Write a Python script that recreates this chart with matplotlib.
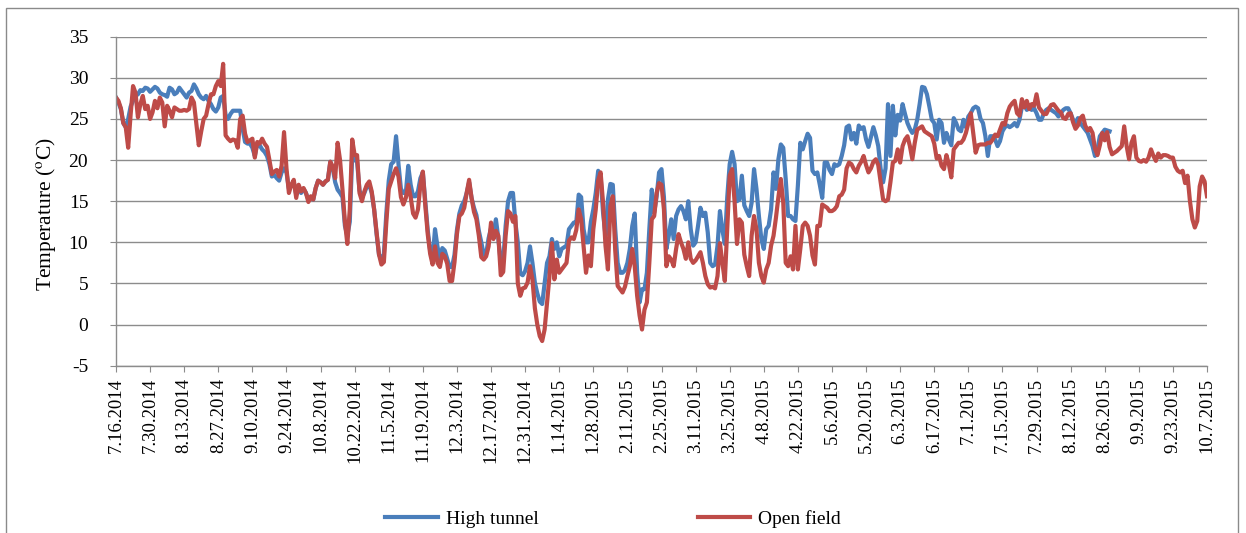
import numpy as np
import pandas as pd
import matplotlib
matplotlib.use("Agg")
import matplotlib.pyplot as plt
from matplotlib.patches import Rectangle

plt.rcParams['font.family'] = ['Liberation Serif', 'DejaVu Serif']
plt.rcParams['mathtext.fontset'] = 'stix'
plt.rcParams['axes.unicode_minus'] = False

# daily mean air temperature (deg C), first day 7/16/2014
start_date = '2014-07-16'

# high tunnel logger stops at the end of August 2015
high_tunnel = (
    [27.6, 27.0, 26.2, 24.5, 24.0, 25.0, 26.5, 27.2, 27.8, 28.0, 28.5, 28.4, 28.8, 28.7,
     28.3, 28.6, 28.9, 28.7, 28.2, 28.0, 27.9, 27.7, 28.8, 28.6, 28.0, 28.2, 28.8, 28.4,
     28.0, 27.6, 28.2, 28.4, 29.2, 28.7, 28.0, 27.6, 27.4, 27.8, 27.2, 26.8, 26.2]
    + [25.9, 26.4, 27.6, 27.8, 25.5, 25.0, 25.6, 26.0, 26.0, 26.0, 26.0, 23.8, 22.2, 22.0,
       22.0, 21.5, 20.5, 22.0, 21.8, 21.3, 21.0, 20.5, 19.5, 18.0, 18.2, 17.8, 17.5, 18.5,
       19.0, 18.5, 16.5, 17.0, 17.3, 15.8, 16.5, 16.0, 16.5, 16.0, 15.2, 15.5]
    + [15.2, 16.6, 17.5, 17.3, 17.0, 17.4, 17.6, 19.8, 19.0, 17.3, 16.4, 16.0, 15.5, 12.0,
       10.8, 12.5, 20.6, 20.0, 19.8, 16.3, 15.5, 16.0, 16.8, 17.0, 16.0, 14.0, 11.0, 8.5,
       8.0, 8.6, 13.5, 17.5, 19.5, 19.8, 22.9, 19.5, 16.5, 16.0, 16.0, 19.3, 17.0, 15.6]
    + [15.6, 16.2, 17.8, 18.5, 15.0, 11.5, 9.0, 8.0, 11.6, 9.5, 8.0, 9.3, 9.0, 8.0,
       7.0, 7.0, 8.5, 11.5, 13.5, 14.5, 15.0, 16.0, 17.3, 15.4, 14.2, 13.3, 11.4, 10.0,
       8.5, 8.6, 10.5, 11.7, 11.0, 12.8, 10.5, 7.5, 7.8, 12.0, 15.0]
    + [16.0, 16.0, 12.4, 10.0, 6.2, 6.0, 6.5, 7.5, 9.5, 7.5, 5.1, 3.8, 2.8, 2.5,
       5.0, 7.5, 8.3, 10.4, 9.2, 10.0, 8.3, 9.2, 9.4, 9.6, 11.6, 12.0, 12.4, 12.4,
       15.8, 15.5, 11.6, 10.0, 10.0, 12.5, 14.0, 16.0, 18.7, 18.0, 13.6, 10.8, 15.2, 17.1, 17.0]
    + [11.6, 7.5, 6.3, 6.3, 6.6, 7.5, 9.2, 12.0, 13.5, 6.3, 2.7, 4.3, 4.3, 6.3,
       11.6, 16.4, 13.6, 15.6, 18.5, 18.9, 15.5, 9.2, 10.8, 12.8, 10.4, 13.2, 14.0, 14.4,
       13.8, 12.8, 15.0, 11.6, 9.6, 10.0, 12.0, 14.2, 13.2, 13.6, 11.2, 7.5, 7.1]
    + [7.3, 9.6, 13.8, 11.5, 9.8, 15.5, 19.5, 21.0, 19.5, 15.0, 15.2, 18.1, 14.5, 13.8,
       13.2, 14.8, 18.9, 16.5, 13.2, 10.4, 9.2, 11.6, 12.0, 14.0, 18.5, 16.5, 20.1, 21.9,
       21.5, 17.7, 13.2, 13.2, 12.8, 12.6, 16.9, 22.1, 21.3, 22.3, 23.2, 22.7, 18.7]
    + [18.3, 18.5, 17.0, 15.4, 19.7, 19.7, 18.8, 18.3, 19.5, 19.3, 19.5, 20.5, 21.8, 24.0,
       24.2, 22.5, 23.3, 22.0, 24.2, 23.8, 24.0, 22.5, 21.6, 22.8, 24.0, 23.0, 21.7, 18.9,
       17.3, 19.0, 26.8, 20.5, 26.6, 23.0, 25.5, 24.8, 26.8, 25.6, 24.5, 23.8, 23.3]
    + [23.7, 24.9, 26.8, 28.9, 28.8, 28.0, 26.5, 24.9, 24.5, 22.5, 24.9, 24.5, 22.1, 23.3,
       22.5, 21.8, 25.1, 24.5, 23.7, 23.5, 24.9, 24.0, 25.3, 25.7, 26.3, 26.5, 26.3, 25.0,
       24.5, 22.9, 20.5, 22.9, 22.9, 22.5, 21.7, 22.3, 23.5, 24.0, 24.2, 24.0, 24.2]
    + [24.5, 24.1, 24.9, 26.5, 26.9, 26.1, 26.3, 26.1, 26.3, 25.7, 24.9, 24.9, 25.7, 26.1,
       26.3, 26.1, 25.9, 25.7, 25.3, 25.7, 26.1, 26.3, 26.3, 25.7, 24.9, 24.5, 25.1, 24.5,
       24.1, 23.7, 23.3, 22.5, 21.7, 20.5, 21.3, 22.9, 23.3, 23.7, 23.6, 23.5]
)

open_field = (
    [27.6, 27.2, 26.3, 24.5, 24.0, 21.5, 25.5, 29.0, 28.2, 25.2, 26.8, 27.8, 26.2, 26.6,
     25.0, 25.8, 27.2, 26.3, 27.6, 27.0, 24.1, 26.6, 26.0, 25.2, 26.4, 26.2, 26.0, 26.0,
     26.1, 26.0, 26.2, 27.6, 27.0, 24.4, 21.8, 23.5, 25.0, 25.4, 26.8, 28.0, 28.0]
    + [29.0, 29.6, 29.0, 31.7, 23.0, 22.6, 22.3, 22.5, 22.4, 21.5, 25.0, 25.4, 23.2, 22.2,
       22.4, 22.6, 20.3, 22.2, 22.0, 22.6, 22.0, 21.6, 20.0, 18.3, 18.6, 18.8, 18.0, 19.3,
       23.4, 19.0, 16.0, 17.0, 17.6, 15.4, 17.0, 16.2, 16.6, 16.0, 14.9, 15.6]
    + [15.2, 16.6, 17.5, 17.3, 17.0, 17.4, 17.6, 19.8, 19.2, 17.8, 22.1, 20.0, 16.4, 12.5,
       9.8, 14.0, 22.5, 20.6, 20.6, 16.0, 15.0, 16.2, 17.0, 17.4, 16.2, 14.0, 11.3, 8.5,
       7.3, 7.6, 12.4, 16.5, 17.4, 18.3, 19.0, 18.0, 15.5, 14.6, 15.4, 17.0, 15.5, 13.5]
    + [13.0, 14.0, 17.0, 18.6, 14.5, 11.0, 8.6, 7.3, 9.5, 7.5, 7.0, 8.6, 8.3, 7.4,
       5.3, 5.3, 7.6, 11.0, 13.2, 13.5, 14.2, 16.0, 17.6, 15.4, 13.7, 12.8, 10.8, 8.2,
       7.9, 8.3, 9.5, 12.4, 10.4, 11.4, 10.8, 6.0, 6.4, 10.8, 13.8]
    + [13.5, 12.5, 13.2, 5.0, 3.5, 4.4, 4.5, 5.1, 7.1, 5.5, 2.0, 0.0, -1.4, -2.0,
       -0.6, 2.7, 5.9, 9.9, 5.5, 7.9, 6.3, 6.7, 7.1, 7.5, 10.2, 10.6, 10.4, 11.5,
       14.0, 12.8, 9.6, 6.3, 8.4, 7.1, 11.6, 14.0, 17.5, 18.5, 14.8, 9.6, 6.7, 14.4, 15.6]
    + [9.0, 4.7, 4.3, 3.9, 4.6, 5.9, 7.1, 9.2, 7.1, 3.5, 1.1, -0.6, 1.8, 2.7,
       7.5, 12.8, 13.2, 16.0, 17.2, 17.0, 14.0, 7.1, 8.3, 7.9, 7.1, 9.2, 11.0, 10.0,
       9.2, 8.0, 10.0, 8.0, 7.5, 7.8, 8.3, 8.8, 7.5, 5.9, 4.9, 4.5, 4.6]
    + [4.4, 5.9, 9.9, 7.5, 5.3, 11.6, 18.1, 18.9, 15.0, 9.8, 12.8, 12.4, 8.5, 7.1,
       5.9, 10.8, 13.2, 11.6, 7.5, 5.9, 5.1, 6.7, 7.5, 9.6, 10.8, 13.0, 15.5, 17.7,
       14.8, 7.5, 7.1, 8.3, 6.7, 12.0, 6.7, 9.2, 12.0, 12.4, 12.0, 10.8, 8.4]
    + [7.3, 12.0, 12.0, 14.6, 14.4, 14.2, 13.8, 13.8, 14.0, 14.4, 15.6, 15.8, 16.4, 19.0,
       19.7, 19.5, 18.9, 18.5, 19.3, 19.8, 20.5, 19.4, 18.5, 19.0, 19.8, 20.1, 19.4, 17.3,
       15.2, 15.0, 15.2, 17.3, 19.7, 19.9, 21.3, 19.7, 21.7, 22.5, 22.9, 21.7, 20.1]
    + [22.1, 23.7, 23.9, 24.1, 23.5, 23.3, 23.1, 22.9, 22.0, 20.2, 20.5, 19.3, 18.9, 20.6,
       19.5, 17.9, 21.3, 21.7, 22.1, 22.1, 22.5, 23.3, 24.5, 25.7, 23.3, 20.9, 21.8, 21.9,
       21.9, 21.9, 22.1, 22.1, 22.5, 23.1, 22.9, 23.7, 24.5, 24.3, 25.7, 26.5, 26.9]
    + [27.2, 25.7, 25.4, 27.4, 26.4, 27.2, 26.2, 26.8, 26.6, 28.0, 26.4, 26.0, 25.6, 25.6,
       26.2, 26.7, 26.8, 26.4, 26.0, 25.8, 25.1, 25.0, 25.6, 25.7, 24.6, 23.8, 24.2, 25.1,
       25.4, 24.2, 23.6, 23.9, 23.3, 21.4, 20.6, 21.8, 23.3, 22.4, 23.4, 21.6]
    + [20.7, 20.9, 21.1, 21.4, 21.7, 24.1, 21.7, 20.1, 22.1, 22.9, 20.3, 19.9, 19.8, 20.0,
       19.8, 20.3, 21.3, 20.5, 19.9, 20.8, 20.3, 20.6, 20.6, 20.5, 20.3, 20.3, 19.2, 18.7,
       18.5, 18.7, 17.2, 18.1, 15.0, 12.8, 11.8, 12.6, 16.8, 18.0, 17.4, 15.6]
)

n_days = len(open_field)
dates = pd.date_range(start_date, periods=n_days, freq='D')
x = np.arange(n_days)

ht = np.full(n_days, np.nan)
ht[:len(high_tunnel)] = high_tunnel
of = np.array(open_field)

tick_step = 14
tick_pos = x[::tick_step]
tick_labels = [f"{d.month}.{d.day}.{d.year}" for d in dates[::tick_step]]

W, H = 1246, 533
fig = plt.figure(figsize=(W / 100, H / 100), dpi=100)

# chart area border
fig.patches.append(Rectangle((6 / W, -0.02), 1232 / W, 1 - 8 / H + 0.02,
                             transform=fig.transFigure, fill=False,
                             edgecolor='#8a8a8a', linewidth=1.0))

ax = fig.add_axes([116 / W, 1 - 365.7 / H, 1091 / W, 329 / H])

grid_c = '#8c8c8c'
ax.set_ylim(-5, 35)
ax.set_yticks(np.arange(-5, 36, 5))
ax.yaxis.grid(True, color=grid_c, linewidth=1.0)
ax.set_axisbelow(True)

ax.plot(x, ht, color='#4A7EBB', linewidth=3.0, label='High tunnel', solid_joinstyle='round')
ax.plot(x, of, color='#BE4B48', linewidth=3.0, label='Open field', solid_joinstyle='round')

ax.set_xlim(0, n_days - 1)
ax.set_xticks(tick_pos)
ax.set_xticklabels(tick_labels, rotation=90)

for side in ['top', 'right']:
    ax.spines[side].set_visible(False)
for side in ['left', 'bottom']:
    ax.spines[side].set_color(grid_c)
    ax.spines[side].set_linewidth(1.0)

ax.tick_params(axis='y', length=4, color=grid_c, pad=16, labelsize=14)
ax.tick_params(axis='x', length=4, color=grid_c, pad=5, labelsize=13.5)

ax.set_ylabel(r'Temperature ($^{\mathrm{o}}$C)', fontsize=15.5)
ax.yaxis.set_label_coords(-0.053, 0.46)

fig.legend(loc='center', bbox_to_anchor=(0.492, 0.027), ncol=2, frameon=False,
           fontsize=14, handlelength=2.7, handletextpad=0.4, columnspacing=8.2)

fig.savefig('out.png', dpi=100)
